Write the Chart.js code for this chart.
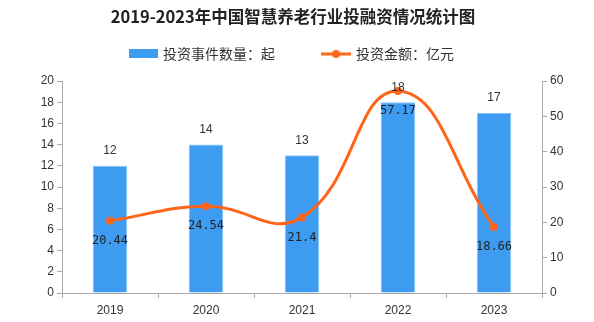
<!DOCTYPE html>
<html>
<head>
<meta charset="utf-8">
<script src="https://cdn.jsdelivr.net/npm/chart.js@4/dist/chart.umd.min.js"></script>
<style>
  html, body { margin: 0; padding: 0; background: #fff; }
  #wrap { width: 594px; height: 322px; position: relative; }
</style>
</head>
<body>
<div id="wrap"><canvas id="myChart"></canvas></div>
<script>
// datos
const years = ['2019', '2020', '2021', '2022', '2023'];
const eventCounts = [12, 14, 13, 18, 17];        // 投资事件数量：起
const amounts = [20.44, 24.54, 21.4, 57.17, 18.66]; // 投资金额：亿元
const leftTicks = [0, 2, 4, 6, 8, 10, 12, 14, 16, 18, 20];
const rightTicks = [0, 10, 20, 30, 40, 50, 60];

const titleText = '2019-2023年中国智慧养老行业投融资情况统计图';
const barLabel = '投资事件数量：起';
const lineLabel = '投资金额：亿元';

const BLUE = '#3d9cf1';
const ORANGE = '#ff6417';
const CJK = '"Noto Sans CJK SC", "Noto Sans", sans-serif';

// titulo + leyenda + etiquetas de valores
const decor = {
  id: 'decor',
  afterDatasetsDraw(chart) {
    const ctx = chart.ctx;
    ctx.save();

    // titulo
    ctx.fillStyle = '#222';
    ctx.font = 'bold 16.5px ' + CJK;
    ctx.textAlign = 'center';
    ctx.textBaseline = 'middle';
    ctx.fillText(titleText, 293, 17);

    // leyenda
    ctx.font = '14px ' + CJK;
    ctx.textAlign = 'left';
    ctx.fillStyle = BLUE;
    ctx.fillRect(129, 49, 29, 9);
    ctx.fillStyle = '#333';
    ctx.fillText(barLabel, 163, 54);

    ctx.strokeStyle = ORANGE;
    ctx.lineWidth = 3;
    ctx.beginPath();
    ctx.moveTo(321, 54);
    ctx.lineTo(351, 54);
    ctx.stroke();
    ctx.fillStyle = ORANGE;
    ctx.beginPath();
    ctx.arc(336, 54, 4, 0, Math.PI * 2);
    ctx.fill();
    ctx.fillStyle = '#333';
    ctx.fillText(lineLabel, 356, 54);

    // valores de barras
    const barMeta = chart.getDatasetMeta(0);
    ctx.font = '12px "Liberation Sans", Arial, sans-serif';
    ctx.textAlign = 'center';
    ctx.fillStyle = '#333';
    barMeta.data.forEach((el, i) => {
      ctx.fillText(String(eventCounts[i]), el.x, el.y - 15);
    });

    // valores de la linea
    const lineMeta = chart.getDatasetMeta(1);
    ctx.font = '12px "DejaVu Sans Mono", "Liberation Mono", monospace';
    ctx.fillStyle = '#222';
    lineMeta.data.forEach((el, i) => {
      ctx.fillText(String(amounts[i]), el.x, el.y + 20);
    });

    ctx.restore();
  }
};

const tickFont = { family: '"Liberation Sans", Arial, sans-serif', size: 12 };

const config = {
  type: 'bar',
  data: {
    labels: years,
    datasets: [
      {
        type: 'bar',
        label: barLabel,
        data: eventCounts,
        yAxisID: 'y',
        backgroundColor: BLUE,
        borderColor: '#86c4fb',
        borderWidth: 1,
        categoryPercentage: 1,
        barPercentage: 0.36,
        order: 2
      },
      {
        type: 'line',
        label: lineLabel,
        data: amounts,
        yAxisID: 'y1',
        borderColor: ORANGE,
        backgroundColor: ORANGE,
        borderWidth: 3,
        tension: 0.45,
        pointRadius: 4,
        pointBackgroundColor: ORANGE,
        pointBorderWidth: 0,
        clip: false,
        order: 1
      }
    ]
  },
  options: {
    responsive: false,
    animation: false,
    layout: { padding: { top: 81, left: 0, right: 0, bottom: 0 } },
    plugins: {
      legend: { display: false },
      title: { display: false },
      tooltip: { enabled: false }
    },
    scales: {
      x: {
        grid: { display: true, drawOnChartArea: false, offset: true, tickLength: 5, color: '#aaa' },
        border: { color: '#aaa', width: 1 },
        ticks: { color: '#333', font: tickFont, padding: 5 },
        afterFit(s) { s.height = 29; }
      },
      y: {
        position: 'left',
        min: 0, max: 20,
        afterBuildTicks(s) { s.ticks = leftTicks.map(v => ({ value: v })); },
        grid: { display: true, drawOnChartArea: false, tickLength: 5, color: '#aaa' },
        border: { color: '#aaa', width: 1 },
        ticks: { color: '#333', font: tickFont, padding: 3 },
        afterFit(s) { s.width = 62; }
      },
      y1: {
        position: 'right',
        min: 0, max: 60,
        afterBuildTicks(s) { s.ticks = rightTicks.map(v => ({ value: v })); },
        grid: { display: true, drawOnChartArea: false, tickLength: 5, color: '#aaa' },
        border: { color: '#aaa', width: 1 },
        ticks: { color: '#333', font: tickFont, padding: 3 },
        afterFit(s) { s.width = 52; }
      }
    }
  },
  plugins: [decor]
};

const canvas = document.getElementById('myChart');
canvas.width = 594;
canvas.height = 322;
new Chart(canvas, config);
</script>
</body>
</html>
